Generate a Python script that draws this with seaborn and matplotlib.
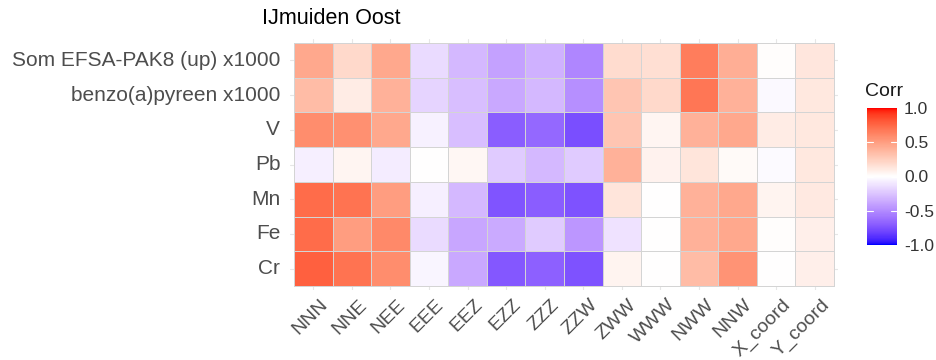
import numpy as np
import pandas as pd
import matplotlib
matplotlib.use("Agg")
import matplotlib.pyplot as plt
import matplotlib.transforms as mtransforms
import seaborn as sns
from matplotlib.colors import ListedColormap

rows = ["Som EFSA-PAK8 (up) x1000", "benzo(a)pyreen x1000", "V", "Pb", "Mn", "Fe", "Cr"]
cols = ["NNN", "NNE", "NEE", "EEE", "EEZ", "EZZ", "ZZZ", "ZZW", "ZWW", "WWW",
        "NWW", "NNW", "X_coord", "Y_coord"]

som   = [0.45, 0.20, 0.45, -0.15, -0.30, -0.40, -0.33, -0.52, 0.18, 0.17, 0.65, 0.42, 0.01, 0.13]
bap   = [0.35, 0.10, 0.40, -0.18, -0.28, -0.37, -0.30, -0.48, 0.30, 0.20, 0.68, 0.40, -0.03, 0.12]
v     = [0.58, 0.57, 0.45, -0.06, -0.28, -0.70, -0.65, -0.76, 0.30, 0.05, 0.40, 0.45, 0.10, 0.12]
pb    = [-0.07, 0.05, -0.08, 0.00, 0.04, -0.22, -0.30, -0.22, 0.40, 0.07, 0.14, 0.03, -0.02, 0.12]
mn    = [0.73, 0.70, 0.50, -0.07, -0.30, -0.74, -0.70, -0.75, 0.14, 0.00, 0.40, 0.45, 0.06, 0.11]
fe    = [0.73, 0.50, 0.60, -0.15, -0.38, -0.36, -0.22, -0.45, -0.12, 0.00, 0.40, 0.45, 0.01, 0.08]
cr    = [0.78, 0.70, 0.58, -0.04, -0.37, -0.72, -0.68, -0.75, 0.06, 0.00, 0.35, 0.55, 0.00, 0.08]

corr = pd.DataFrame([som, bap, v, pb, mn, fe, cr], index=rows, columns=cols)


# --- blue / white / red diverging scale interpolated in CIE Lab ---
def srgb_to_lab(rgb):
    rgb = np.asarray(rgb, float)
    lin = np.where(rgb <= 0.04045, rgb / 12.92, ((rgb + 0.055) / 1.055) ** 2.4)
    m = np.array([[0.4124, 0.3576, 0.1805],
                  [0.2126, 0.7152, 0.0722],
                  [0.0193, 0.1192, 0.9505]])
    xyz = m @ lin / np.array([0.95047, 1.0, 1.08883])
    f = np.where(xyz > 0.008856, np.cbrt(xyz), 7.787 * xyz + 16 / 116)
    return np.array([116 * f[1] - 16, 500 * (f[0] - f[1]), 200 * (f[1] - f[2])])


def lab_to_srgb(lab):
    L, a, b = lab
    fy = (L + 16) / 116
    fx = fy + a / 500
    fz = fy - b / 200
    f = np.array([fx, fy, fz])
    xyz = np.where(f ** 3 > 0.008856, f ** 3, (f - 16 / 116) / 7.787)
    xyz = xyz * np.array([0.95047, 1.0, 1.08883])
    minv = np.array([[3.2406, -1.5372, -0.4986],
                     [-0.9689, 1.8758, 0.0415],
                     [0.0557, -0.2040, 1.0570]])
    lin = np.clip(minv @ xyz, 0, 1)
    rgb = np.where(lin <= 0.0031308, 12.92 * lin, 1.055 * lin ** (1 / 2.4) - 0.055)
    return np.clip(rgb, 0, 1)


lab_lo = srgb_to_lab([0, 0, 1])
lab_mid = srgb_to_lab([1, 1, 1])
lab_hi = srgb_to_lab([1, 0, 0])
colors = []
for t in np.linspace(-1, 1, 256):
    if t < 0:
        lab = lab_mid + (lab_lo - lab_mid) * (-t)
    else:
        lab = lab_mid + (lab_hi - lab_mid) * t
    colors.append(lab_to_srgb(lab))
cmap = ListedColormap(colors)

sns.set_theme(style="white")
plt.rcParams["font.family"] = ["Liberation Sans", "DejaVu Sans"]

W, H = 936, 360
fig = plt.figure(figsize=(W / 100, H / 100), dpi=100)
pad = 4
ax = fig.add_axes([(294 - pad) / W, 1 - (286 + pad) / H, (540 + 2 * pad) / W, (243 + 2 * pad) / H])
cax = fig.add_axes([867 / W, 1 - 245 / H, 30 / W, 137 / H])

sns.heatmap(corr, ax=ax, cmap=cmap, vmin=-1, vmax=1, linewidths=0.6,
            linecolor="#d4d4d4", cbar_ax=cax, square=False)

# panel grid, slightly wider than the tiles
ex = pad / (540 / 14)
ey = pad / (243 / 7)
ax.set_xlim(-ex, 14 + ex)
ax.set_ylim(7 + ey, -ey)
ax.set_xticks(np.arange(14) + 0.5)
ax.set_yticks(np.arange(7) + 0.5)
ax.grid(True, color="#e6e6e6", linewidth=0.8)
ax.set_axisbelow(True)
for s in ax.spines.values():
    s.set_visible(False)
ax.set_xlabel("")
ax.set_ylabel("")
ax.tick_params(axis="y", length=0, pad=7, colors="#4d4d4d", labelsize=15)
ax.tick_params(axis="x", length=0, pad=3, colors="#4d4d4d", labelsize=14)
ax.set_xticklabels(cols, rotation=45, ha="right", rotation_mode="anchor", color="#4d4d4d")
ax.set_yticklabels(rows, rotation=0, color="#4d4d4d")
shift = mtransforms.ScaledTranslation(6 / 100, -2 / 100, fig.dpi_scale_trans)
for lab in ax.get_xticklabels():
    lab.set_transform(lab.get_transform() + shift)

cax.set_yticks([-1, -0.5, 0, 0.5, 1])
cax.set_yticklabels(["-1.0", "-0.5", "0.0", "0.5", "1.0"])
cax.tick_params(axis="y", length=0, labelsize=12.5, colors="#333333", pad=5)
for yv in [-0.5, 0, 0.5]:
    cax.plot([0, 0.2], [yv, yv], color="white", lw=0.8, transform=cax.get_yaxis_transform())
    cax.plot([0.8, 1.0], [yv, yv], color="white", lw=0.8, transform=cax.get_yaxis_transform())
for s in cax.spines.values():
    s.set_visible(False)
fig.text(865 / W, 1 - 92 / H, "Corr", fontsize=14, color="#1a1a1a", ha="left", va="center")

fig.text(262 / W, 1 - 18 / H, "IJmuiden Oost", fontsize=15.5, color="black", ha="left", va="center")

fig.savefig("out.png", dpi=100)
